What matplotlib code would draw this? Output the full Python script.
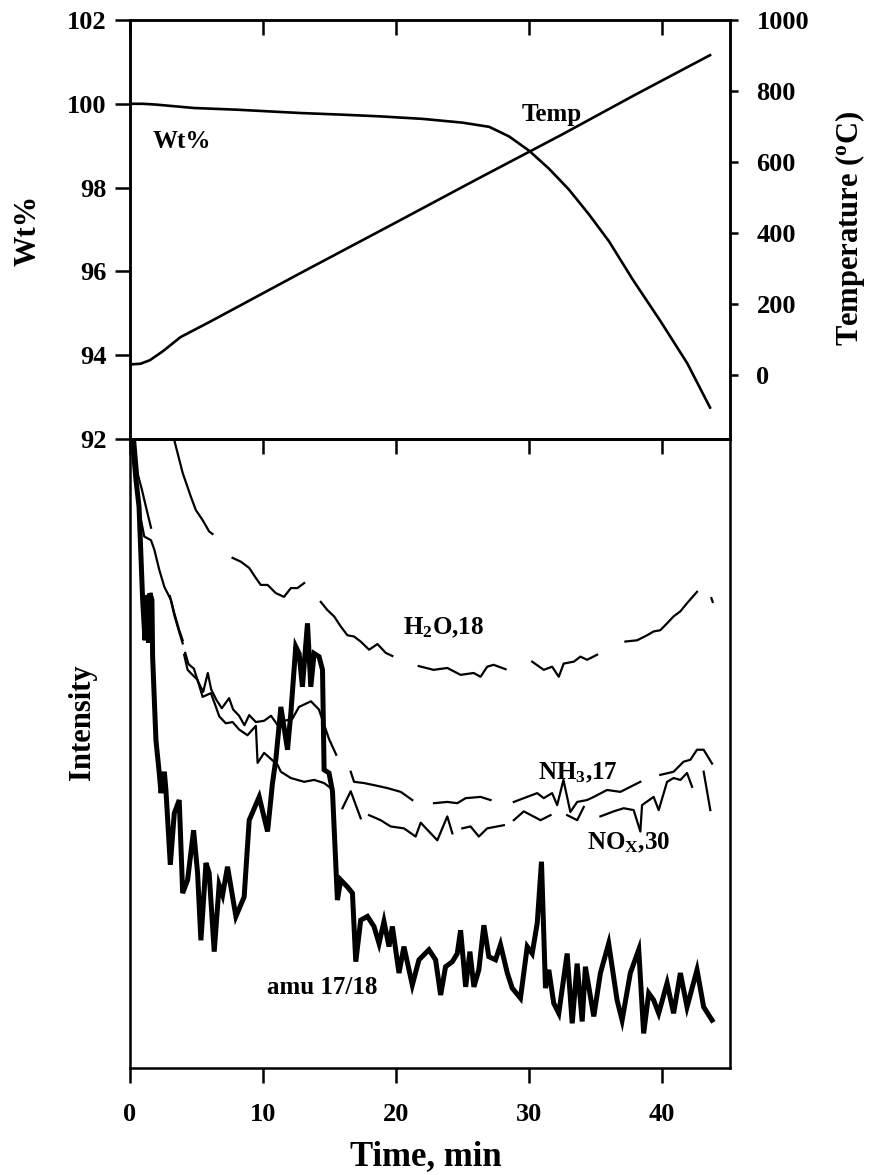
import numpy as np
import matplotlib
matplotlib.use("Agg")
import matplotlib.pyplot as plt

nan = np.nan

# ---------------- top panel data ----------------
wt_time = [0, 1.0, 2.0, 4.8, 8.0, 12.8, 16.0, 18.8, 22.0, 25.0, 27.0, 28.5, 30.0, 31.5, 33.0,
           34.5, 36.0, 37.8, 39.9, 41.9, 43.6]
wt_pct = [100.0, 100.0, 99.98, 99.9, 99.86, 99.78, 99.74, 99.70, 99.64, 99.55, 99.45, 99.22,
          98.88, 98.45, 97.95, 97.36, 96.72, 95.8, 94.8, 93.8, 92.75]

temp_time = [0, 0.8, 1.5, 2.5, 3.8, 6.0, 12.8, 20.0, 26.0, 32.4, 38.0, 43.6]
temp_c = [30, 32, 42, 68, 107, 150, 287, 430, 550, 676, 790, 901]

# ---------------- bottom panel data (arbitrary intensity) ----------------
h2o_time = [3.2, 3.33, 3.96, 4.58, 4.95, 5.46, 5.95, 6.20, nan,
            7.71, 8.33, 8.96, 9.46, 9.83, 10.34, 10.96, 11.58, 12.09, 12.59, 13.09, nan,
            14.34, 14.84, 15.34, 15.84, 16.34, 16.84, 17.34, 17.97, 18.60, 19.22, 19.72, nan,
            21.70, 22.82, 23.85, 24.85, 25.83, 26.35, 26.85, 27.33, 28.23, nan,
            30.23, 31.10, 31.73, 32.23, 32.60, 33.36, 33.86, 34.36, 35.11, nan,
            37.24, 38.12, 38.87, 39.36, 39.86, 40.37, 40.86, 41.37, 41.87, 42.62, nan,
            43.70, 43.80]
h2o_int = [102, 99.8, 94.6, 90.8, 88.7, 87.1, 85.3, 84.9, nan,
           81.1, 80.5, 79.5, 77.9, 76.8, 76.8, 75.5, 74.9, 76.3, 76.3, 77.1, nan,
           74.1, 72.8, 71.8, 70.2, 68.8, 68.6, 67.8, 66.5, 67.4, 66.0, 65.5, nan,
           63.9, 63.3, 63.6, 62.5, 62.8, 62.2, 63.8, 64.1, 63.4, nan,
           64.6, 63.3, 63.8, 62.2, 64.3, 64.6, 65.4, 64.9, 65.7, nan,
           67.8, 68.0, 68.8, 69.4, 69.6, 70.7, 71.8, 72.6, 73.9, 75.7, nan,
           74.7, 74.1]

nh3_time = [0.25, 0.38, 0.60, 0.90, 1.20, 1.58, nan,
            3.0, 3.33, 3.70, 3.96, nan,
            4.15, 4.40, 4.80, 5.10, 5.50, 5.85, 6.10, 6.50, 6.90, 7.45, 7.75, 8.20, 8.60, 8.96,
            9.46, 10.08, 10.60, 11.10, 11.60, 12.20, 12.70, 13.60, 14.20, 14.96, 15.50, nan,
            16.59, 16.84, 17.59, 18.50, 19.35, 20.35, 21.22, nan,
            22.85, 23.85, 24.60, 25.23, 26.35, 27.10, nan,
            28.85, 29.60, 30.61, 31.10, 31.73, 32.11, 32.58, 33.10, 33.61, 34.36, 34.86, 35.86,
            36.86, 37.61, 38.36, nan,
            39.86, 40.86, 41.61, 42.12, 42.62, 43.12, 43.75]
nh3_int = [102, 99.8, 94.3, 91.9, 89.2, 85.9, nan,
           75.0, 72.0, 69.3, 67.5, nan,
           66.0, 64.2, 63.5, 61.5, 59.8, 62.8, 60.2, 58.5, 57.2, 58.8, 57.0, 56.0, 54.5, 56.1,
           55.0, 55.2, 56.0, 54.5, 55.2, 55.5, 57.4, 58.3, 57.0, 52.3, 49.8, nan,
           47.1, 45.5, 45.3, 44.9, 44.5, 43.9, 42.6, nan,
           42.1, 42.3, 42.1, 42.9, 43.1, 42.6, nan,
           42.3, 42.9, 43.7, 42.9, 43.7, 41.8, 45.8, 40.7, 42.3, 42.6, 43.1, 44.2,
           43.9, 44.7, 45.5, nan,
           46.6, 47.1, 48.7, 49.0, 50.6, 50.6, 48.4]

nox_time = [0.15, 0.50, 0.83, 1.07, 1.58, 1.83, 2.20, 2.58, 3.08, 3.33, 3.70, 3.96, nan,
            4.07, 4.33, 4.70, 5.08, 5.46, 6.08, 6.46, 6.71, 7.20, 7.71, 8.21, 8.83, 9.46,
            9.59, 10.08, 11.09, 11.34, 12.09, 13.09, 13.84, 14.59, 15.09, nan,
            15.97, 16.59, 17.34, nan,
            17.97, 18.84, 19.59, 20.59, 21.47, 21.85, 23.10, 23.85, 24.23, nan,
            24.98, 25.60, 26.22, 26.85, 28.10, nan,
            28.85, 29.60, 30.86, 31.61, nan,
            32.86, 33.61, 34.11, nan,
            35.36, 36.36, 37.11, 37.86, 38.36, 38.49, 39.36, 39.74, 40.37, 40.86, 41.37, 41.87,
            42.25, nan,
            43.12, 43.62]
nox_int = [102, 92.0, 87.1, 84.5, 83.9, 82.4, 79.2, 76.5, 74.4, 72.3, 69.6, 68.0, nan,
           65.7, 63.3, 62.5, 61.7, 59.0, 59.6, 57.4, 55.9, 54.8, 55.0, 53.8, 52.9, 54.4,
           48.5, 50.1, 48.2, 47.1, 46.1, 45.5, 45.8, 45.3, 44.5, nan,
           41.3, 44.0, 39.7, nan,
           40.2, 39.4, 38.4, 38.1, 36.8, 39.0, 36.2, 40.0, 37.3, nan,
           38.1, 38.4, 36.8, 38.1, 38.6, nan,
           39.4, 40.8, 39.4, 40.2, nan,
           40.2, 39.4, 41.5, nan,
           40.0, 40.8, 41.3, 41.0, 37.6, 41.8, 43.1, 41.0, 45.5, 46.1, 45.8, 46.9,
           44.7, nan,
           47.1, 41.0]

amu_time = [0.10, 0.45, 0.68, 0.95, 1.13, 1.28, 1.39, 1.50, 1.65, 1.70, 1.95, 2.20, 2.33,
            2.58, 2.70, 3.03, 3.33, 3.70, 3.96, 4.33, 4.78, 5.08, 5.33, 5.71, 5.95, 6.33,
            6.70, 6.96, 7.33, 7.96, 8.58, 8.96, 9.71, 10.34, 10.71, 10.96, 11.34, 11.84,
            12.09, 12.46, 12.71, 12.96, 13.34, 13.59, 13.84, 14.21, 14.47, 14.59, 14.96,
            15.22, 15.59, 15.84, 16.34, 16.72, 16.97, 17.34, 17.85, 18.34, 18.72, 19.09,
            19.47, 19.72, 20.22, 20.59, 21.22, 21.72, 22.47, 22.97, 23.35, 23.72, 24.23,
            24.60, 24.85, 25.23, 25.55, 25.85, 26.22, 26.60, 26.97, 27.48, 27.85, 28.36,
            28.73, 29.35, 29.86, 30.23, 30.61, 30.93, 31.23, 31.48, 31.85, 32.23, 32.86,
            33.24, 33.61, 33.99, 34.23, 34.86, 35.36, 35.98, 36.61, 36.99, 37.61, 38.24,
            38.61, 38.99, 39.36, 39.74, 40.37, 40.86, 41.37, 41.87, 42.62, 43.12, 43.75]
amu_int = [102, 93.5, 89.2, 74.4, 68.0, 75.2, 67.6, 75.5, 74.4, 65.4, 52.1, 46.9, 43.7,
           47.1, 44.2, 32.3, 40.5, 42.6, 27.8, 29.9, 37.8, 31.0, 20.3, 32.6, 31.0, 18.5,
           29.1, 27.5, 32.0, 24.1, 27.2, 39.4, 43.1, 37.6, 45.3, 49.0, 57.4, 50.6,
           56.4, 67.0, 65.9, 60.6, 70.7, 60.6, 65.9, 65.4, 63.3, 47.4, 46.9,
           44.0, 26.7, 29.9, 28.8, 27.8, 16.9, 23.5, 24.1, 22.5, 19.8, 23.3,
           19.3, 22.5, 15.1, 19.3, 13.2, 17.2, 18.8, 17.2, 11.6, 16.1, 16.9,
           18.2, 21.9, 12.9, 18.5, 12.9, 15.6, 22.7, 17.7, 17.2, 19.6, 15.1,
           12.7, 11.1, 19.3, 18.2, 23.0, 32.8, 12.7, 15.6, 10.3, 8.7, 18.2,
           7.1, 16.6, 7.4, 16.1, 8.2, 15.1, 19.8, 10.8, 7.6, 15.1, 18.8,
           5.5, 11.9, 10.8, 8.7, 13.5, 8.7, 15.1, 9.7, 15.6, 9.7, 7.6]

x_ticks = [0, 10, 20, 30, 40]
wt_ticks = [92, 94, 96, 98, 100, 102]
temp_ticks = [0, 200, 400, 600, 800, 1000]

# ---------------- styling ----------------
plt.rcParams['font.family'] = ['Liberation Serif', 'DejaVu Serif']
plt.rcParams['font.weight'] = 'bold'
plt.rcParams['mathtext.fontset'] = 'custom'
plt.rcParams['mathtext.rm'] = 'Liberation Serif:bold'
plt.rcParams['mathtext.it'] = 'Liberation Serif:bold'
plt.rcParams['mathtext.bf'] = 'Liberation Serif:bold'

W, H = 869, 1175
fig = plt.figure(figsize=(W / 100, H / 100), dpi=100)

L, R = 130, 730
T1, B1 = 20, 439
B2 = 1068

ax1 = fig.add_axes([L / W, 1 - B1 / H, (R - L) / W, (B1 - T1) / H])
ax2 = fig.add_axes([L / W, 1 - B2 / H, (R - L) / W, (B2 - B1) / H], sharex=ax1)

XMAX = 45.1
tick_fs = 19
lab_fs = 22

# top panel
ax1.plot(wt_time, wt_pct, color='black', lw=1.9, solid_joinstyle='round')
ax1.set_ylim(92, 102)
ax1.set_xlim(0, XMAX)
ax1.set_yticks(wt_ticks)
ax1.set_xticks(x_ticks)
ax1.tick_params(axis='y', direction='out', length=11, width=1.8, labelsize=tick_fs, pad=6)
ax1.tick_params(axis='x', which='both', direction='in', length=11, width=1.8,
                top=True, bottom=False, labelbottom=False, labeltop=False)
for s in ax1.spines.values():
    s.set_linewidth(1.8)

ax1t = ax1.twinx()
ax1t.plot(temp_time, temp_c, color='black', lw=1.9)
ax1t.set_ylim(-180, 1000)
ax1t.set_yticks(temp_ticks)
ax1t.tick_params(axis='y', direction='out', length=6, width=1.8, labelsize=tick_fs, pad=13)
for s in ax1t.spines.values():
    s.set_linewidth(1.8)

ax1.text((153 - L) / (R - L), 1 - (142 - T1) / (B1 - T1), 'Wt%', transform=ax1.transAxes,
         fontsize=18, fontweight='bold', ha='left', va='center')
ax1.text((522 - L) / (R - L), 1 - (115 - T1) / (B1 - T1), 'Temp', transform=ax1.transAxes,
         fontsize=18, fontweight='bold', ha='left', va='center')

# bottom panel
ax2.plot(h2o_time, h2o_int, color='black', lw=1.6)
ax2.plot(nh3_time, nh3_int, color='black', lw=1.6)
ax2.plot(nox_time, nox_int, color='black', lw=1.6)
ax2.plot(amu_time, amu_int, color='black', lw=3.6, solid_joinstyle='miter')
ax2.set_ylim(0, 100)
ax2.set_xlim(0, XMAX)
ax2.set_yticks([])
ax2.set_xticks(x_ticks)
ax2.tick_params(axis='x', direction='out', length=11, width=1.8, labelsize=tick_fs, pad=14)
for s in ax2.spines.values():
    s.set_linewidth(1.8)
# inward ticks along the shared top edge of the lower panel
ax2top = ax2.secondary_xaxis('top')
ax2top.set_xticks(x_ticks)
ax2top.tick_params(direction='in', length=11, width=1.8, labelsize=0, labeltop=False)
ax2top.spines['top'].set_linewidth(1.8)

def ax2_xy(px, py):
    return (px - L) / (R - L), 1 - (py - B1) / (B2 - B1)

ax2.text(*ax2_xy(403, 628), r'H$\mathregular{_2}$O,18', transform=ax2.transAxes,
         fontsize=18, ha='left', va='center')
ax2.text(*ax2_xy(538, 773), r'NH$\mathregular{_3}$,17', transform=ax2.transAxes,
         fontsize=18, ha='left', va='center')
ax2.text(*ax2_xy(587, 843), r'NO$\mathregular{_X}$,30', transform=ax2.transAxes,
         fontsize=18, ha='left', va='center')
ax2.text(*ax2_xy(267, 987), 'amu 17/18', transform=ax2.transAxes,
         fontsize=18, ha='left', va='center')

# axis labels
fig.text(28 / W, 1 - 230 / H, 'Wt%', rotation=90, fontsize=lab_fs, fontweight='bold',
         ha='center', va='center')
fig.text(850 / W, 1 - 228 / H, r'Temperature ($\mathregular{^o}$C)', rotation=90,
         fontsize=lab_fs, fontweight='bold', ha='center', va='center')
fig.text(82 / W, 1 - 722 / H, 'Intensity', rotation=90, fontsize=lab_fs, fontweight='bold',
         ha='center', va='center')
fig.text((L + R) / 2 / W - 0.005, 1 - 1157 / H, 'Time, min', fontsize=25, fontweight='bold',
         ha='center', va='center')

fig.savefig('out.png', dpi=100)
